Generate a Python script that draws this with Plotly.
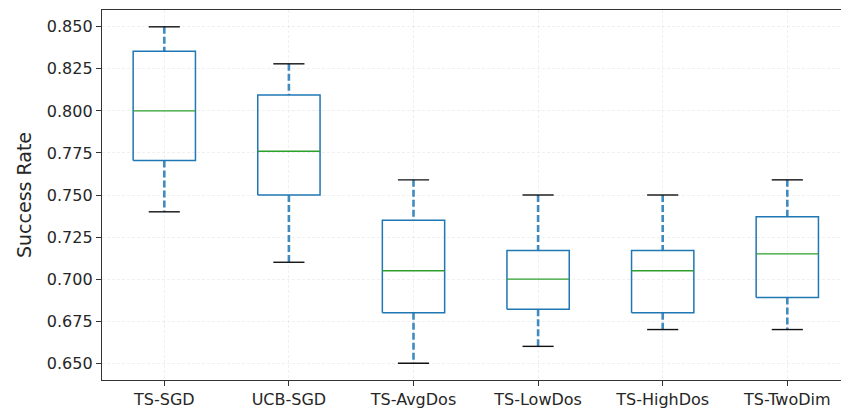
import plotly.graph_objects as go

# Summary statistics for each method
methods = ["TS-SGD", "UCB-SGD", "TS-AvgDos", "TS-LowDos", "TS-HighDos", "TS-TwoDim"]
whisker_low = [0.740, 0.710, 0.650, 0.660, 0.670, 0.670]
q1 = [0.7705, 0.750, 0.680, 0.682, 0.680, 0.689]
median = [0.800, 0.776, 0.705, 0.700, 0.705, 0.715]
q3 = [0.8355, 0.8095, 0.735, 0.717, 0.717, 0.737]
whisker_high = [0.850, 0.828, 0.759, 0.750, 0.750, 0.759]
y_ticks = [0.650, 0.675, 0.700, 0.725, 0.750, 0.775, 0.800, 0.825, 0.850]

BOX_W = 0.25      # half box width (data units)
CAP_W = 0.125     # half cap width
BLUE = "#1f77b4"
GREEN = "#2ca02c"

fig = go.Figure()

positions = list(range(1, len(methods) + 1))


def add_line(xs, ys, color, width, dash="solid"):
    fig.add_trace(go.Scatter(
        x=xs, y=ys, mode="lines", hoverinfo="skip", showlegend=False,
        line=dict(color=color, width=width, dash=dash),
    ))


for p, lo, a, m, b, hi in zip(positions, whisker_low, q1, median, q3, whisker_high):
    # whiskers (dashed)
    add_line([p, p], [hi, b], "rgba(31,119,180,0.85)", 2.6, "7px,3px")
    add_line([p, p], [a, lo], "rgba(31,119,180,0.85)", 2.6, "7px,3px")
    # caps
    add_line([p - CAP_W, p + CAP_W], [hi, hi], "#111111", 1.4)
    add_line([p - CAP_W, p + CAP_W], [lo, lo], "#111111", 1.4)
    # box body
    add_line([p - BOX_W, p + BOX_W, p + BOX_W, p - BOX_W, p - BOX_W],
             [a, a, b, b, a], BLUE, 1.5)
    # median
    add_line([p - BOX_W, p + BOX_W], [m, m], GREEN, 1.4)

FONT = "DejaVu Sans"

fig.update_layout(
    width=841, height=409,
    margin=dict(l=102, r=0, t=10, b=24),
    paper_bgcolor="white", plot_bgcolor="white",
    font=dict(family=FONT, size=16, color="#262626"),
    showlegend=False,
)

fig.update_xaxes(
    range=[0.5, 6.431],
    tickmode="array", tickvals=positions, ticktext=methods,
    showline=True, linecolor="#333333", linewidth=1.3, mirror=True,
    ticks="outside", ticklen=5, tickcolor="#333333",
    showgrid=True, gridcolor="rgba(0,0,0,0.06)", griddash="3px,2px", gridwidth=1,
    zeroline=False,
    tickfont=dict(size=16),
)
fig.update_yaxes(
    range=[0.640, 0.860],
    tickmode="array", tickvals=y_ticks, ticktext=[f"{v:.3f}" for v in y_ticks],
    showline=True, linecolor="#333333", linewidth=1.3,
    ticks="outside", ticklen=5, tickcolor="#333333",
    showgrid=True, gridcolor="rgba(0,0,0,0.06)", griddash="3px,2px", gridwidth=1,
    zeroline=False,
    tickfont=dict(size=16),
    title=dict(text="Success Rate", font=dict(size=19, color="#262626"), standoff=10),
)

fig.write_html("out.html")
